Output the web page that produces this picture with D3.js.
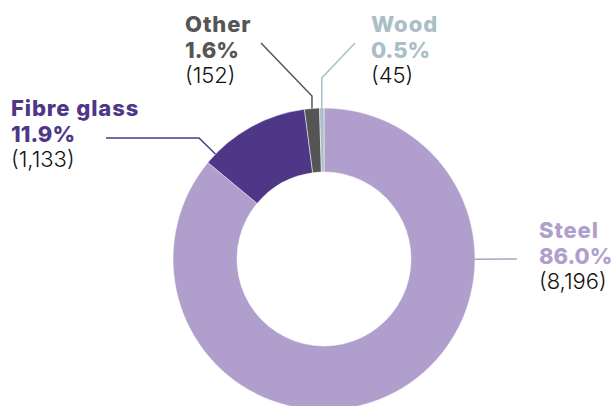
<!DOCTYPE html>
<html>
<head>
<meta charset="utf-8">
<script src="https://cdn.jsdelivr.net/npm/d3@7"></script>
<style>
  html, body { margin: 0; padding: 0; background: #fff; }
  text { font-family: Inter, "Open Sans", sans-serif; }
</style>
</head>
<body>
<div id="chart"></div>
<script>
// data
const categories = ["Steel", "Fibre glass", "Other", "Wood"];
const counts = [8196, 1133, 152, 45];

const width = 612, height = 406;
const cx = 324, cy = 259, outerR = 151, innerR = 87;

const color = d3.scaleOrdinal()
    .domain(categories)
    .range(["#b09fcc", "#4e3787", "#555555", "#a9bec6"]);

// label layout: text anchor, leader anchor (fraction through slice), bend + end points
const labelLayout = {
    "Steel":       { x: 539, y: 238, frac: 0.291, pts: [[517, 259]] },
    "Fibre glass": { x: 11,  y: 116, frac: 0.10,  pts: [[199, 138], [106, 138]] },
    "Other":       { x: 185, y: 32,  frac: 0.5,   pts: [[null, 96], [261, 43]] },
    "Wood":        { x: 371, y: 32,  frac: 0.5,   pts: [[null, 78], [355, 43]] }
};

const total = d3.sum(counts);
const pct = d3.format(".1%");
const num = d3.format(",");

const data = categories.map((c, i) => ({ name: c, value: counts[i] }));

const svg = d3.select("#chart")
    .append("svg")
    .attr("width", width)
    .attr("height", height);

const g = svg.append("g")
    .attr("transform", `translate(${cx}, ${cy})`);

const pie = d3.pie()
    .value(d => d.value)
    .sort(null);

const arc = d3.arc()
    .innerRadius(innerR)
    .outerRadius(outerR);

const arcs = pie(data);

g.selectAll("path.slice")
    .data(arcs)
    .join("path")
    .attr("class", "slice")
    .attr("d", arc)
    .attr("fill", d => color(d.data.name))
    .attr("stroke", "#fff")
    .attr("stroke-width", 0.5);

// leader lines
arcs.forEach(d => {
    const L = labelLayout[d.data.name];
    const a = d.startAngle + (d.endAngle - d.startAngle) * L.frac;
    const ax = cx + outerR * Math.sin(a);
    const ay = cy - outerR * Math.cos(a);
    const pts = [[ax, ay]].concat(L.pts.map(p => [p[0] === null ? ax : p[0], p[1]]));
    svg.append("path")
        .attr("d", d3.line()(pts))
        .attr("fill", "none")
        .attr("stroke", color(d.data.name))
        .attr("stroke-width", 1.5);
});

// labels
arcs.forEach(d => {
    const L = labelLayout[d.data.name];
    const t = svg.append("text")
        .attr("x", L.x)
        .attr("y", L.y)
        .style("font-size", "22px");
    t.append("tspan")
        .attr("x", L.x)
        .attr("font-weight", 800)
        .attr("letter-spacing", "0.9px")
        .attr("fill", color(d.data.name))
        .text(d.data.name);
    t.append("tspan")
        .attr("x", L.x)
        .attr("dy", 25.5)
        .attr("font-weight", 800)
        .attr("fill", color(d.data.name))
        .text(pct(d.data.value / total));
    t.append("tspan")
        .attr("x", L.x)
        .attr("dy", 25.5)
        .attr("font-weight", 300)
        .attr("fill", "#111")
        .text("(" + num(d.data.value) + ")");
});
</script>
</body>
</html>
